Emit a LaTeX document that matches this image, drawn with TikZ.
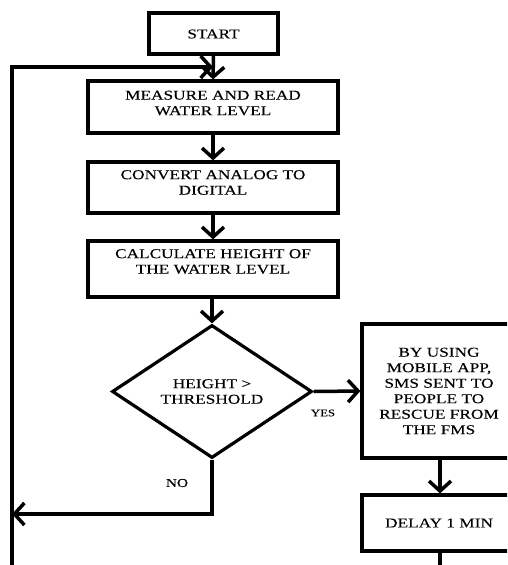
\documentclass[tikz,border=0pt]{standalone}
\usepackage{fontspec}
\setmainfont[FakeStretch=1.28,FakeBold=0.12]{Liberation Serif}
\usetikzlibrary{arrows.meta,shapes.geometric}
\begin{document}
\begin{tikzpicture}[x=1pt,y=-1pt,
 box/.style={draw,line width=3.2pt,inner sep=0pt},
 txt/.style={align=center,font=\fontsize{13.5}{15.5}\selectfont,inner sep=0pt},
 flow/.style={line width=3.5pt,-{Straight Barb[length=10pt,width=22pt,line width=3.5pt]}},
 plain/.style={line width=3.5pt}]
\useasboundingbox (0,0) rectangle (507,565);
\clip (0,0) rectangle (507,565);
% boxes
\node[box,minimum width=129pt,minimum height=41pt] (start) at (213.5,33.5) {};
\node[txt] (startt) at (213.5,34) {START};
\node[box,minimum width=250pt,minimum height=52pt] (meas) at (213,107) {};
\node[txt] (meast) at (213,103) {MEASURE AND READ\\WATER LEVEL};
\node[box,minimum width=250pt,minimum height=51pt] (conv) at (213,187.5) {};
\node[txt] (convt) at (213,182.5) {CONVERT ANALOG TO\\DIGITAL};
\node[box,minimum width=250pt,minimum height=56pt] (calc) at (213,269) {};
\node[txt] (calct) at (213,261.5) {CALCULATE HEIGHT OF\\THE WATER LEVEL};
\node[box,shape=diamond,aspect=1.5,minimum width=200pt,minimum height=133pt,txt] (dia) at (212,391.5) {HEIGHT >\\THRESHOLD};
\node[box,minimum width=154pt,minimum height=134pt,txt] (sms) at (439,391) {BY USING\\MOBILE APP,\\SMS SENT TO\\PEOPLE TO\\RESCUE FROM\\THE FMS};
\node[box,minimum width=154pt,minimum height=56pt,txt] (delay) at (439,523) {DELAY 1 MIN};
% labels
\node[inner sep=0pt,font=\fontsize{10}{12}\selectfont] (yes) at (323,413) {YES};
\node[inner sep=0pt,font=\fontsize{12}{14}\selectfont] (no) at (177,483) {NO};
% coordinates
\coordinate (lb) at (12,575);
\coordinate (lt) at (213,67);
\coordinate (nohit) at (12,514);
\coordinate (db) at (440,575);
% connectors
\draw[flow] (start.south) -- (meas.north);
\draw[flow] (lb) |- (lt);
\draw[flow] (meas.south) -- (conv.north);
\draw[flow] (conv.south) -- (calc.north);
\draw[flow] (dia.north |- calc.south) -- (dia.north);
\draw[flow] (dia.east) -- (sms.west);
\draw[flow] (dia.south) |- (nohit);
\draw[flow] (sms.south -| 440,0) -- (delay.north -| 440,0);
\draw[plain] (delay.south -| 440,0) -- (db);
\end{tikzpicture}
\end{document}
